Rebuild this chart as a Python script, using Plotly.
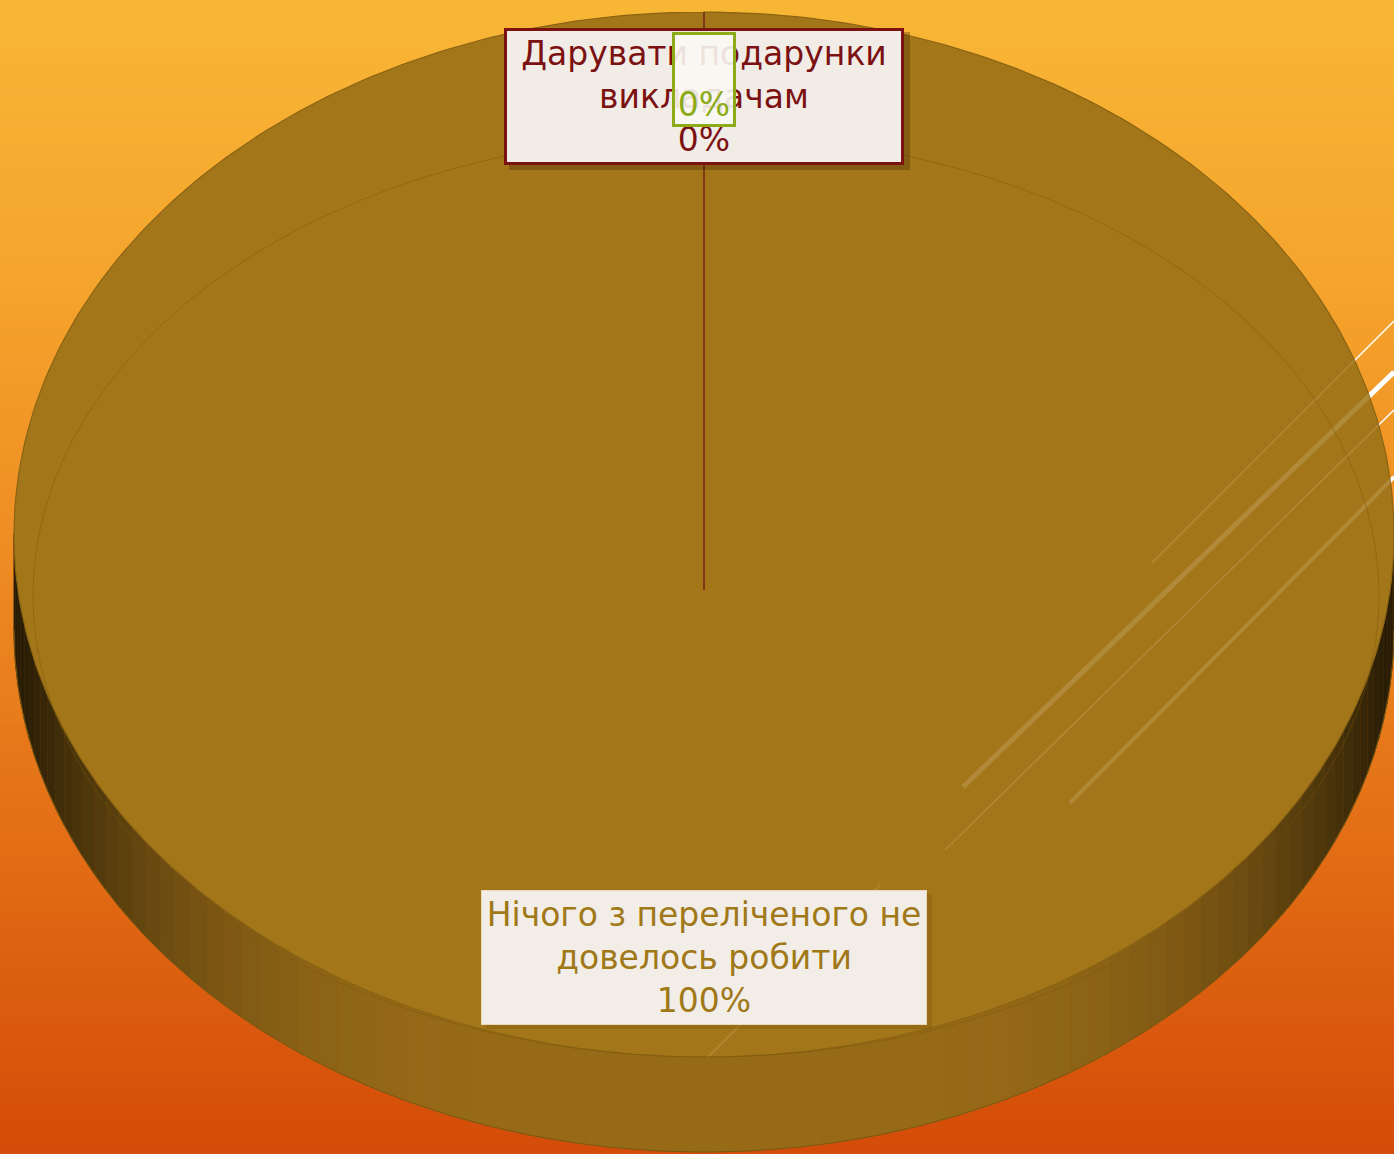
import numpy as np
import plotly.graph_objects as go

# ---------------- data ----------------
categories = ["Дарувати подарунки викладачам", "", "Нічого з переліченого не довелось робити"]
values = [0.0, 0.0, 1.0]
label_names = ["Дарувати подарунки<br>викладачам", "", "Нічого з переліченого не<br>довелось робити"]

# ---------------- style / layout ----------------
W, H = 1394, 1154
CX, CY, RX, RY = 704, 534.5, 690, 522.5     # top face ellipse (pixels)
APEX_Y = 590                                # apex where slice edges meet
DEPTH = 95                                  # 3D thickness
slice_fill = ["#7B1A12", "#8DAA18", "#A37719"]
slice_line = ["#7B1A12", "#8DAA18", "#8A6414"]
text_colors = ["#7B1111", "#8DAA18", "#A07818"]
label_bg = ["#F1ECE6", "rgba(248,248,242,0.9)", "#F2EEE7"]
label_border = ["#7B1111", "#8DAA18", "#E6D9BC"]
label_bw = [3, 3, 1]
label_size = [(394, 131), (58, 89), (444, 133)]
label_offset = [84.5, 67.5, -99.5]   # from rim point at slice mid-angle
label_valign = ["middle", "bottom", "middle"]
FONT = "DejaVu Sans"

fig = go.Figure()


def rim(theta, dy=0.0):
    return CX + RX * np.sin(theta), CY - RY * np.cos(theta) + dy


def side_color(u):
    k = 1 - 0.76 * abs(u) ** 4
    base = np.array([152, 107, 24])
    c = (base * k).astype(int)
    return f"rgb({c[0]},{c[1]},{c[2]})"


cum = np.concatenate([[0], np.cumsum(values)])
starts = cum[:-1] * 2 * np.pi
ends = cum[1:] * 2 * np.pi

# ---- side (front half only) ----
for i in range(len(values)):
    a = max(starts[i], np.pi / 2)
    b = min(ends[i], 3 * np.pi / 2)
    if b <= a:
        continue
    nseg = max(1, int((b - a) / np.radians(2)))
    edges = np.linspace(a, b, nseg + 1)
    for j in range(nseg):
        t = np.linspace(edges[j], edges[j + 1], 6)
        xt, yt = rim(t)
        xb, yb = rim(t[::-1], DEPTH)
        col = side_color(np.sin((edges[j] + edges[j + 1]) / 2))
        fig.add_trace(go.Scatter(
            x=np.concatenate([xt, xb]), y=np.concatenate([yt, yb]),
            fill="toself", fillcolor=col, mode="lines",
            line=dict(color=col, width=0.8), hoverinfo="skip", showlegend=False))
    t = np.linspace(a, b, 200)
    xb, yb = rim(t, DEPTH)
    fig.add_trace(go.Scatter(x=xb, y=yb, mode="lines",
                             line=dict(color="#7A5810", width=1),
                             hoverinfo="skip", showlegend=False))

# ---- top faces (largest drawn first; first category's edge ends on top) ----
order = sorted(range(len(values)), key=lambda k: (-values[k], -k))
for i in order:
    n = max(2, int(400 * values[i]) + 2)
    t = np.linspace(starts[i], ends[i], n)
    xr, yr = rim(t)
    xs = np.concatenate([[CX], xr, [CX]])
    ys = np.concatenate([[APEX_Y], yr, [APEX_Y]])
    fig.add_trace(go.Scatter(
        x=xs, y=ys, fill="toself", fillcolor=slice_fill[i], mode="lines",
        line=dict(color=slice_line[i], width=1.5 if values[i] == 0 else 1.2),
        name=categories[i], hoverinfo="skip", showlegend=False))

# ---- labels ----
annotations = []
for i in range(len(values)):
    mid = (starts[i] + ends[i]) / 2
    ax, ay = rim(mid)
    pct = f"{values[i] * 100:.0f}%"
    txt = f"{label_names[i]}<br>{pct}" if label_names[i] else pct
    w, h = label_size[i]
    annotations.append(dict(
        x=ax, y=ay + label_offset[i], xref="x", yref="y",
        text=txt, showarrow=False, xanchor="center", yanchor="middle",
        width=w, height=h, valign=label_valign[i], align="center",
        bgcolor=label_bg[i], bordercolor=label_border[i], borderwidth=label_bw[i],
        borderpad=0, font=dict(family=FONT, size=33, color=text_colors[i])))
# draw the named labels first, then the small value-only label on top
annotations = [annotations[2], annotations[0], annotations[1]]

# ---------------- background gradient ----------------
stops_y = [0.0, 0.25, 0.5, 0.75, 1.0]
stops_c = [(249, 183, 54), (245, 164, 45), (238, 138, 34), (226, 108, 21), (212, 76, 9)]
shapes = []
nb = 116
for k in range(nb):
    f = (k + 0.5) / nb
    c = [int(np.interp(f, stops_y, [s[j] for s in stops_c])) for j in range(3)]
    shapes.append(dict(type="rect", xref="paper", yref="paper",
                       x0=0, x1=1, y0=1 - (k + 1) / nb - 0.002, y1=1 - k / nb,
                       fillcolor=f"rgb({c[0]},{c[1]},{c[2]})", line=dict(width=0),
                       layer="below"))

# decorative slide lines (white behind the pie, translucent over it)
deco = [((963, 787), (1394, 372), 5), ((945, 850), (1394, 410), 1.5),
        ((1070, 803), (1394, 477), 4), ((1152, 563), (1394, 321), 1.5),
        ((708, 1057), (880, 885), 1.5), ((1373, 392), (1394, 372), 3)]
for (x0, y0), (x1, y1), wdt in deco:
    shapes.append(dict(type="line", xref="x", yref="y", x0=x0, y0=y0, x1=x1, y1=y1,
                       line=dict(color="white", width=wdt), layer="below"))
    shapes.append(dict(type="line", xref="x", yref="y", x0=x0, y0=y0, x1=x1, y1=y1,
                       line=dict(color="rgba(255,255,255,0.14)", width=wdt), layer="above"))

# inner bevel line of the top face
shapes.append(dict(type="circle", xref="x", yref="y", x0=33, x1=1379, y0=135, y1=1057,
                   line=dict(color="rgba(120,86,10,0.45)", width=1), layer="above"))

# label shadows
shapes.append(dict(type="rect", xref="x", yref="y", x0=509, x1=910, y0=32, y1=170,
                   fillcolor="rgba(60,30,0,0.30)", line=dict(width=0), layer="above"))
shapes.append(dict(type="rect", xref="x", yref="y", x0=486, x1=932, y0=894, y1=1029,
                   fillcolor="rgba(90,60,0,0.18)", line=dict(width=0), layer="above"))

fig.update_layout(
    width=W, height=H, margin=dict(l=0, r=0, t=0, b=0),
    paper_bgcolor="rgb(230,120,28)", plot_bgcolor="rgba(0,0,0,0)",
    xaxis=dict(range=[0, W], visible=False, fixedrange=True),
    yaxis=dict(range=[H, 0], visible=False, fixedrange=True),
    shapes=shapes, annotations=annotations, showlegend=False,
)

fig.write_html("out.html", config={"displayModeBar": False},
               post_script="document.body.style.margin='0';document.body.style.overflow='hidden';")
